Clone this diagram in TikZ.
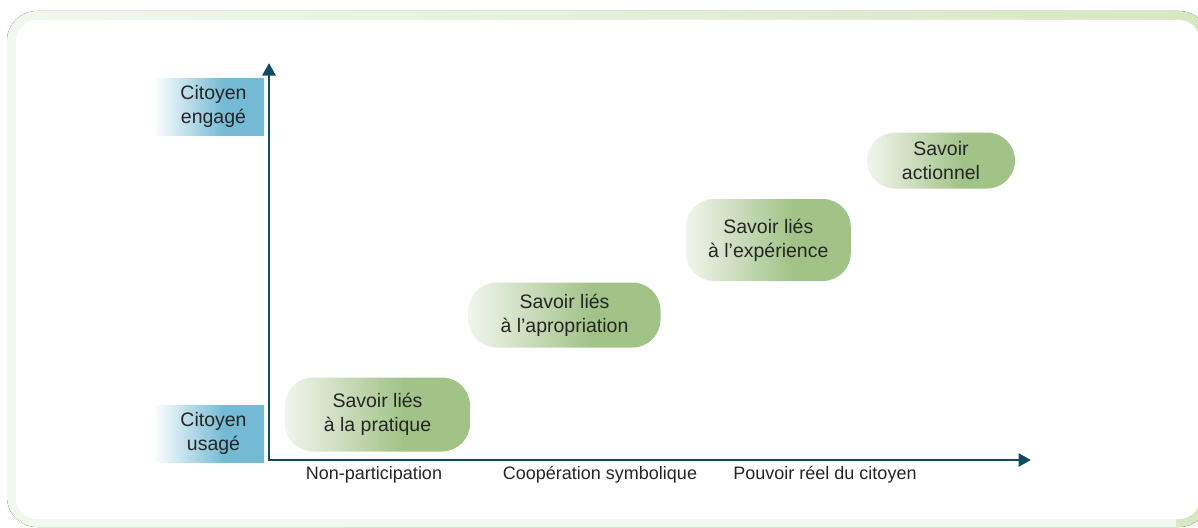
\documentclass[tikz,border=0pt]{standalone}
\usepackage{fontspec}
\setmainfont{Liberation Sans}
\usetikzlibrary{arrows.meta}

\definecolor{frameL}{HTML}{F3F8EE}
\definecolor{frameR}{HTML}{D5E8C0}
\definecolor{frameB}{HTML}{F3F8EE}
\definecolor{pillL}{HTML}{F2F5EE}
\definecolor{pillR}{HTML}{A2C388}
\definecolor{boxR}{HTML}{74BAD4}
\definecolor{axiscol}{HTML}{0F4C62}
\definecolor{txt}{HTML}{262626}

% left-to-right fades; the node's bounding box spans 25bp..75bp
\pgfdeclarehorizontalshading{pillshade}{100bp}{color(0bp)=(pillL); color(25bp)=(pillL); color(57bp)=(pillR); color(100bp)=(pillR)}
\pgfdeclarehorizontalshading{boxshade}{100bp}{color(0bp)=(white); color(25bp)=(white); color(57bp)=(boxR); color(100bp)=(boxR)}

\tikzset{
  pill/.style={rectangle, rounded corners=28pt, shading=pillshade, draw=none,
    align=center, text=txt, inner sep=0pt, font=\fontsize{19.5}{24}\selectfont},
  levelbox/.style={rectangle, shading=boxshade, draw=none, inner sep=0pt,
    minimum width=111pt, minimum height=57pt},
  leveltext/.style={align=center, text=txt, inner sep=0pt, font=\fontsize{19.5}{24.5}\selectfont},
  axislabel/.style={text=txt, inner sep=0pt, font=\fontsize{18}{21}\selectfont},
  axis/.style={draw=axiscol, line width=2.6pt,
    {Triangle[length=12.5pt,width=13pt]}-{Triangle[length=12.5pt,width=13pt]}},
}

\begin{document}
\begin{tikzpicture}[x=1pt,y=-1pt]
\useasboundingbox (0,0) rectangle (1198,527);

% rounded frame with a soft green band, faint along the bottom
\fill[left color=frameL, right color=frameR, rounded corners=30pt] (7,11) rectangle (1209,527);
\fill[frameB] (40,510) rectangle (1176,527);
\fill[white, rounded corners=21pt] (16,20) rectangle (1200,519);

% axes
\coordinate (O) at (269,460);
\coordinate (ytip) at (269,63);
\coordinate (xtip) at (1031,460);
\draw[axis] (ytip) -- (O) -- (xtip);

% levels on the vertical axis
\node[levelbox] (eng) at (208.5,106.5) {};
\node[leveltext] (engt) at ([xshift=5pt]eng.center) {Citoyen\\engagé};
\node[levelbox] (usa) at (208.5,433.5) {};
\node[leveltext] (usat) at ([xshift=5pt]usa.center) {Citoyen\\usagé};

% kinds of knowledge
\node[pill, minimum width=185pt, minimum height=74pt] (p1) at (377.5,414.5) {Savoir liés\\à la pratique};
\node[pill, minimum width=192pt, minimum height=65pt] (p2) at (564.5,315) {Savoir liés\\à l’apropriation};
\node[pill, minimum width=165pt, minimum height=82pt] (p3) at (768.3,240) {Savoir liés\\à l’expérience};
\node[pill, minimum width=148pt, minimum height=56pt] (p4) at (941,160.5) {Savoir\\actionnel};

% levels of participation
\node[axislabel] (n1) at (374,475) {Non-participation};
\node[axislabel] (n2) at (600,475) {Coopération symbolique};
\node[axislabel] (n3) at (825,475) {Pouvoir réel du citoyen};
\end{tikzpicture}
\end{document}
